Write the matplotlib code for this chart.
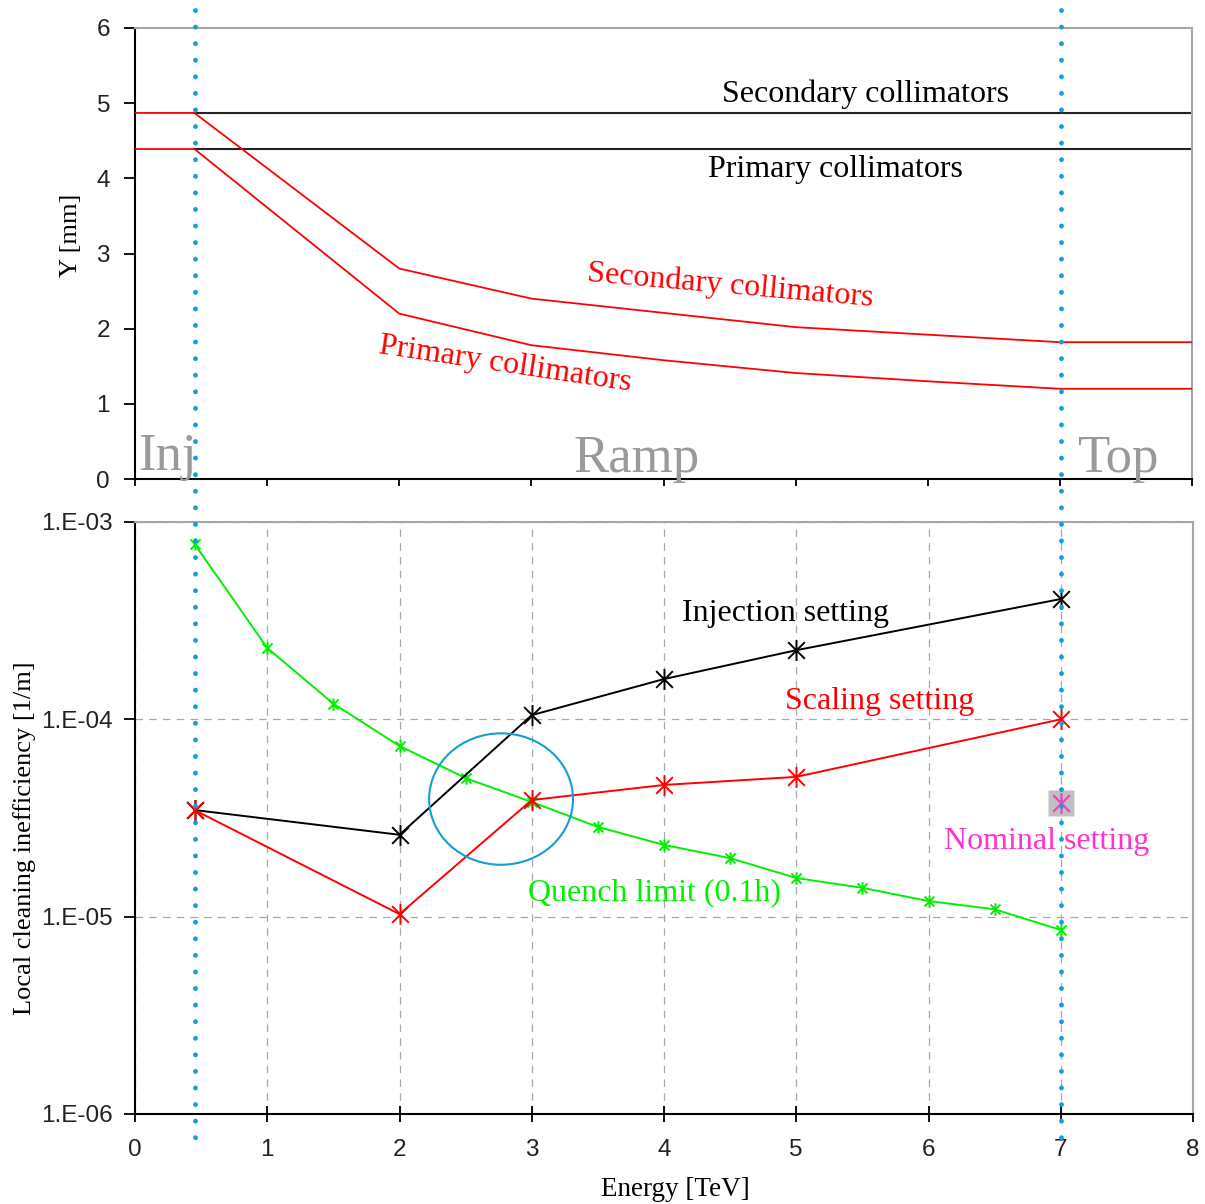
import matplotlib
matplotlib.use("Agg")
import matplotlib.pyplot as plt
import numpy as np
from matplotlib.path import Path
from matplotlib.patches import Ellipse
from matplotlib.lines import Line2D
from matplotlib.transforms import blended_transform_factory
from matplotlib.ticker import FixedLocator, FuncFormatter

# ---------------- data ----------------
# Top panel: collimator half gaps [mm] versus beam energy [TeV]
E_INJ = 0.45
E_TOP = 7.0
fixed_secondary_mm = 4.87
fixed_primary_mm = 4.39

ramp_energy = [0.0, 0.45, 2.0, 3.0, 4.0, 5.0, 6.0, 7.0, 8.0]
ramp_secondary_mm = [4.87, 4.87, 2.80, 2.40, 2.21, 2.02, 1.92, 1.82, 1.82]
ramp_primary_mm = [4.39, 4.39, 2.20, 1.78, 1.58, 1.41, 1.30, 1.20, 1.20]

# Bottom panel: local cleaning inefficiency [1/m]
quench_energy = [0.45, 1.0, 1.5, 2.0, 2.5, 3.0, 3.5, 4.0, 4.5, 5.0, 5.5, 6.0, 6.5, 7.0]
quench_limit = [7.74e-4, 2.30e-4, 1.20e-4, 7.33e-5, 5.04e-5, 3.81e-5, 2.85e-5,
                2.31e-5, 1.98e-5, 1.57e-5, 1.40e-5, 1.20e-5, 1.09e-5, 8.56e-6]

setting_energy = [0.45, 2.0, 3.0, 4.0, 5.0, 7.0]
injection_setting = [3.47e-5, 2.60e-5, 1.05e-4, 1.60e-4, 2.24e-4, 4.07e-4]
scaling_setting = [3.47e-5, 1.03e-5, 3.90e-5, 4.65e-5, 5.11e-5, 1.00e-4]

nominal_energy = [7.0]
nominal_setting = [3.77e-5]

x_ticks = [0, 1, 2, 3, 4, 5, 6, 7, 8]
y_ticks_top = [0, 1, 2, 3, 4, 5, 6]
y_ticks_bottom = [1e-6, 1e-5, 1e-4, 1e-3]

# ---------------- style ----------------
SERIF = ["Liberation Serif", "DejaVu Serif"]
SANS = ["Liberation Sans", "DejaVu Sans"]
plt.rcParams["font.family"] = SANS

GREEN = "#00f000"
RED = "#ff0000"
MAGENTA = "#ff33cc"
BLUE = "#129fd5"
GRAY_TXT = "#9a9a9a"
SPINE_GRAY = "#a6a6a6"
TICK_FS = 17.5
NOTE_FS = 23

# star marker: an x with a vertical bar
star = Path([(-1, -1), (1, 1), (-1, 1), (1, -1), (0, -1.25), (0, 1.25)],
            [Path.MOVETO, Path.LINETO, Path.MOVETO, Path.LINETO, Path.MOVETO, Path.LINETO])

W, H = 1205, 1204
fig = plt.figure(figsize=(W / 100, H / 100), dpi=100)
fig.patch.set_facecolor("white")


def frac(x0, y0, x1, y1):
    return [x0 / W, 1 - y1 / H, (x1 - x0) / W, (y1 - y0) / H]


ax1 = fig.add_axes(frac(135, 28, 1192, 479))
ax2 = fig.add_axes(frac(135, 522, 1193, 1114))

for ax in (ax1, ax2):
    ax.spines["left"].set_color("black")
    ax.spines["bottom"].set_color("black")
    ax.spines["top"].set_color(SPINE_GRAY)
    ax.spines["right"].set_color(SPINE_GRAY)
    for s in ax.spines.values():
        s.set_linewidth(1.5)


# annotations anchored in figure pixels (measured from the top-left corner)
def ftext(ax_, px, py, s, **kw):
    return ax_.text(px / W, 1 - py / H, s, transform=fig.transFigure, **kw)


# ---------------- top panel ----------------
ax1.set_xlim(0, 8)
ax1.set_ylim(0, 6)
ax1.xaxis.set_major_locator(FixedLocator(x_ticks))
ax1.yaxis.set_major_locator(FixedLocator(y_ticks_top))
ax1.tick_params(axis="x", direction="out", length=5, width=1.3, labelbottom=False)
ax1.tick_params(axis="y", direction="out", length=8, width=1.3, labelsize=TICK_FS, pad=10,
                labelcolor="#222222")

ax1.plot([E_INJ, 8], [fixed_secondary_mm] * 2, color="#222222", lw=1.5, zorder=2)
ax1.plot([E_INJ, 8], [fixed_primary_mm] * 2, color="#222222", lw=1.5, zorder=2)
ax1.plot(ramp_energy, ramp_secondary_mm, color=RED, lw=1.3, zorder=3)
ax1.plot(ramp_energy, ramp_primary_mm, color=RED, lw=1.3, zorder=3)

ftext(ax1, 865, 94, "Secondary collimators", fontsize=NOTE_FS, family=SERIF,
      ha="center", va="center", color="black")
ftext(ax1, 835, 170, "Primary collimators", fontsize=NOTE_FS, family=SERIF,
      ha="center", va="center", color="black")
ftext(ax1, 730, 286, "Secondary collimators", fontsize=NOTE_FS, family=SERIF, color=RED,
      ha="center", va="center", rotation=-5, rotation_mode="anchor")
ftext(ax1, 505, 364, "Primary collimators", fontsize=NOTE_FS, family=SERIF, color=RED,
      ha="center", va="center", rotation=-8.5, rotation_mode="anchor")
ftext(ax1, 138, 470, "Inj", fontsize=38, family=SERIF, color=GRAY_TXT, ha="left", va="baseline")
ftext(ax1, 573, 472, "Ramp", fontsize=38, family=SERIF, color=GRAY_TXT, ha="left", va="baseline")
ftext(ax1, 1077, 472, "Top", fontsize=38, family=SERIF, color=GRAY_TXT, ha="left", va="baseline")

ax1.set_ylabel("Y [mm]", fontsize=19, family=SERIF)
ax1.yaxis.set_label_coords(-0.0605, 0.541)
ax1.yaxis.label.set_va("center")

# ---------------- bottom panel ----------------
ax2.set_xlim(0, 8)
ax2.set_yscale("log")
ax2.set_ylim(1e-6, 1e-3)
ax2.xaxis.set_major_locator(FixedLocator(x_ticks))
ax2.yaxis.set_major_locator(FixedLocator(y_ticks_bottom))
ax2.yaxis.set_minor_locator(FixedLocator([]))
ax2.yaxis.set_major_formatter(FuncFormatter(lambda v, p: "1.E-%02d" % int(round(-np.log10(v)))))
ax2.tick_params(axis="x", direction="inout", length=12, width=1.3, labelsize=TICK_FS, pad=12,
                labelcolor="#222222")
ax2.tick_params(axis="y", direction="out", length=8, width=1.3, labelsize=TICK_FS, pad=8,
                labelcolor="#222222")
ax2.grid(True, which="major", color="#a8a8a8", lw=0.9, linestyle=(0, (6, 5)))
ax2.set_axisbelow(True)

ax2.plot(quench_energy, quench_limit, color=GREEN, lw=1.4, marker=star, ms=9,
         mew=1.4, mec=GREEN, zorder=3)
ax2.plot(setting_energy, injection_setting, color="black", lw=1.4, marker=star, ms=15,
         mew=1.4, mec="black", zorder=4)
ax2.plot(setting_energy, scaling_setting, color=RED, lw=1.4, marker=star, ms=15,
         mew=1.4, mec=RED, zorder=4)
ax2.plot(nominal_energy, nominal_setting, linestyle="none", marker="s", ms=19,
         mfc="#c0c0c0", mec="none", zorder=5)
ax2.plot(nominal_energy, nominal_setting, linestyle="none", marker=star, ms=15,
         mew=1.5, mec=MAGENTA, zorder=6)

ax2.add_patch(Ellipse((0.346, 0.532), 0.136, 0.222, transform=ax2.transAxes,
                      fill=False, edgecolor=BLUE, lw=1.5, zorder=5))

ftext(ax2, 785, 613, "Injection setting", fontsize=NOTE_FS, family=SERIF, color="black",
      ha="center", va="center")
ftext(ax2, 880, 702, "Scaling setting", fontsize=NOTE_FS, family=SERIF, color=RED,
      ha="center", va="center")
ftext(ax2, 1047, 841, "Nominal setting", fontsize=NOTE_FS, family=SERIF, color=MAGENTA,
      ha="center", va="center", zorder=7)
ftext(ax2, 655, 893, "Quench limit (0.1h)", fontsize=NOTE_FS, family=SERIF, color=GREEN,
      ha="center", va="center")

ax2.set_ylabel("Local cleaning inefficiency [1/m]", fontsize=19, family=SERIF)
ax2.yaxis.set_label_coords(-0.104, 0.466)
ax2.set_xlabel("Energy [TeV]", fontsize=19.5, family=SERIF)
ax2.xaxis.set_label_coords(0.5104, -0.127)
ax2.xaxis.label.set_va("center")
ax2.yaxis.label.set_va("center")

# dotted markers of the injection and top energies across both panels
trans = blended_transform_factory(ax2.transData, fig.transFigure)
for e in (E_INJ, E_TOP):
    fig.add_artist(Line2D([e, e], [1 - 10 / H, 1 - 1139 / H], transform=trans,
                          color=BLUE, lw=3.5, linestyle=(0, (0.01, 3.4)),
                          dash_capstyle="round", zorder=10))

fig.savefig("out.png", dpi=100, facecolor="white")
